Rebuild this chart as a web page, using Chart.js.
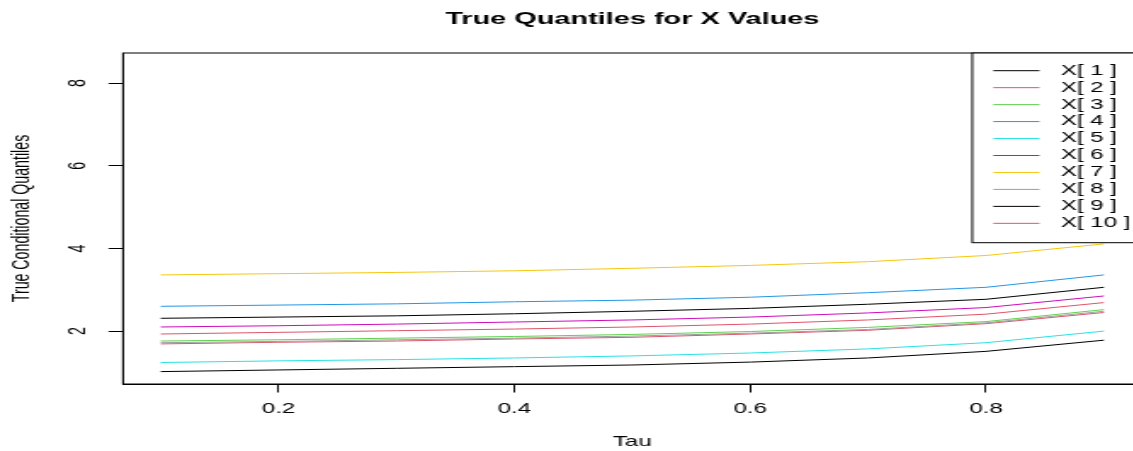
<!DOCTYPE html>
<html><head><meta charset="utf-8">
<script src="https://cdn.jsdelivr.net/npm/chart.js@4.4.0/dist/chart.umd.min.js"></script>
<style>
html,body{margin:0;padding:0;background:#fff;overflow:hidden;width:1133px;height:451px;}
#wrap{position:absolute;left:0;top:0;transform-origin:0 0;}
canvas{display:block;}
</style></head><body>
<div id="wrap"><canvas id="c"></canvas></div>
<script>
// ---- data ----
const tau = [0.1, 0.2, 0.3, 0.4, 0.5, 0.6, 0.7, 0.8, 0.9];
const x1  = [1.02, 1.06, 1.10, 1.14, 1.18, 1.25, 1.35, 1.51, 1.78];
const x2  = [1.93, 1.97, 2.01, 2.05, 2.10, 2.17, 2.27, 2.41, 2.69];
const x3  = [1.76, 1.79, 1.83, 1.87, 1.92, 1.99, 2.09, 2.23, 2.52];
const x4  = [2.60, 2.63, 2.66, 2.71, 2.75, 2.82, 2.93, 3.06, 3.36];
const x5  = [1.24, 1.28, 1.31, 1.35, 1.40, 1.47, 1.57, 1.72, 2.00];
const x6  = [2.10, 2.13, 2.17, 2.22, 2.27, 2.34, 2.44, 2.57, 2.85];
const x7  = [3.36, 3.39, 3.42, 3.46, 3.52, 3.59, 3.68, 3.83, 4.11];
const x8  = [1.72, 1.75, 1.79, 1.83, 1.88, 1.95, 2.04, 2.20, 2.48];
const x9  = [2.31, 2.34, 2.37, 2.42, 2.48, 2.55, 2.65, 2.77, 3.06];
const x10 = [1.69, 1.73, 1.76, 1.81, 1.85, 1.93, 2.02, 2.18, 2.45];
const seriesLabels = ['X[ 1 ]','X[ 2 ]','X[ 3 ]','X[ 4 ]','X[ 5 ]','X[ 6 ]','X[ 7 ]','X[ 8 ]','X[ 9 ]','X[ 10 ]'];
const seriesColors = ['#000000','#DF536B','#61D04F','#2297E6','#28E2E5','#CD0BBC','#F5C710','#9E9E9E','#000000','#DF536B'];
const xTicks = [0.2, 0.4, 0.6, 0.8];
const yTicks = [2, 4, 6, 8];

// ---- layout (horizontal values in screen px, divided by stretch S) ----
const S = 1.7;
const W = 683, H = 451;
const FAM = "'Liberation Sans', Arial, Helvetica, sans-serif";
const FS = 14.2;
const wrap = document.getElementById('wrap');
wrap.style.transform = 'scaleX(' + S + ')';
const cv = document.getElementById('c');
cv.width = W; cv.height = H;
cv.style.width = W + 'px'; cv.style.height = H + 'px';

const all = [x1,x2,x3,x4,x5,x6,x7,x8,x9,x10];
const datasets = all.map((arr, i) => ({
  label: seriesLabels[i],
  data: tau.map((t, j) => ({x: t, y: arr[j]})),
  borderColor: seriesColors[i],
  borderWidth: 1,
  pointRadius: 0,
  tension: 0,
  fill: false
}));

const boxPlugin = {
  id: 'box',
  beforeDatasetsDraw(chart) {
    const {ctx, chartArea: a} = chart;
    ctx.save();
    ctx.strokeStyle = '#000'; ctx.lineWidth = 1;
    ctx.strokeRect(a.left, a.top, a.right - a.left, a.bottom - a.top);
    ctx.restore();
  }
};

const yLabelPlugin = {
  id: 'ylabels',
  afterDraw(chart) {
    const {ctx} = chart;
    const ys = chart.scales.y;
    const cx = 79 / S;
    ctx.save();
    ctx.fillStyle = '#000';
    ctx.font = FS + 'px ' + FAM;
    ctx.textAlign = 'center'; ctx.textBaseline = 'middle';
    ys.ticks.forEach(t => {
      const py = ys.getPixelForValue(t.value);
      ctx.save();
      ctx.translate(cx, py);
      ctx.rotate(-Math.PI / 2);
      ctx.fillText(String(t.value), 0, 0);
      ctx.restore();
    });
    ctx.restore();
  }
};

const legendPlugin = {
  id: 'rlegend',
  afterDatasetsDraw(chart) {
    const {ctx, chartArea: a} = chart;
    const boxLeft = 972.3 / S, lineX0 = 993.3 / S, lineX1 = 1039.5 / S, textX = 1060.7 / S;
    const row0 = 70.7, step = 16.96, boxBottom = 242.7;
    ctx.save();
    ctx.fillStyle = '#fff';
    ctx.fillRect(boxLeft, a.top, a.right - boxLeft, boxBottom - a.top);
    ctx.strokeStyle = '#000'; ctx.lineWidth = 1;
    ctx.strokeRect(boxLeft, a.top, a.right - boxLeft, boxBottom - a.top);
    ctx.font = FS + 'px ' + FAM;
    ctx.textAlign = 'left'; ctx.textBaseline = 'middle';
    chart.data.datasets.forEach((d, i) => {
      const y = row0 + i * step;
      ctx.strokeStyle = d.borderColor;
      ctx.beginPath(); ctx.moveTo(lineX0, y); ctx.lineTo(lineX1, y); ctx.stroke();
      ctx.fillStyle = '#000';
      ctx.fillText(d.label, textX, y);
    });
    ctx.restore();
  }
};

new Chart(cv, {
  type: 'line',
  data: {datasets},
  options: {
    responsive: false,
    animation: false,
    devicePixelRatio: 1,
    layout: {padding: {left: 0, right: W - 1141.6 / S, top: 0, bottom: 0}},
    plugins: {
      legend: {display: false},
      tooltip: {enabled: false},
      title: {
        display: true, text: 'True Quantiles for X Values', fullSize: false,
        color: '#000', font: {family: FAM, size: 17, weight: 'bold', lineHeight: 1.2},
        padding: {top: 9, bottom: 23.6}
      }
    },
    scales: {
      x: {
        type: 'linear', min: 0.068, max: 0.932,
        afterBuildTicks: s => { s.ticks = xTicks.map(v => ({value: v})); },
        afterFit: s => { s.height = H - 384; },
        grid: {drawOnChartArea: false, drawTicks: true, tickLength: 8.5, color: '#000', tickColor: '#000', lineWidth: 1},
        border: {display: true, color: '#000', width: 1},
        ticks: {color: '#000', font: {family: FAM, size: FS, lineHeight: 1.2}, padding: 8.5, autoSkip: false, maxRotation: 0, minRotation: 0,
                callback: v => String(v)},
        title: {display: true, text: 'Tau', color: '#000', font: {family: FAM, size: FS, lineHeight: 1.2}, padding: {top: 0, bottom: 0}}
      },
      y: {
        type: 'linear', min: 0.72, max: 8.73,
        afterBuildTicks: s => { s.ticks = yTicks.map(v => ({value: v})); },
        afterFit: s => { s.width = 123 / S; },
        grid: {drawOnChartArea: false, drawTicks: true, tickLength: 8.5 , color: '#000', tickColor: '#000', lineWidth: 1},
        border: {display: true, color: '#000', width: 1},
        ticks: {display: false},
        title: {display: true, text: 'True Conditional Quantiles', color: '#000', font: {family: FAM, size: FS, lineHeight: 1.2}, padding: {top: 4.4, bottom: 0}}
      }
    }
  },
  plugins: [boxPlugin, yLabelPlugin, legendPlugin]
});
</script>
</body></html>
